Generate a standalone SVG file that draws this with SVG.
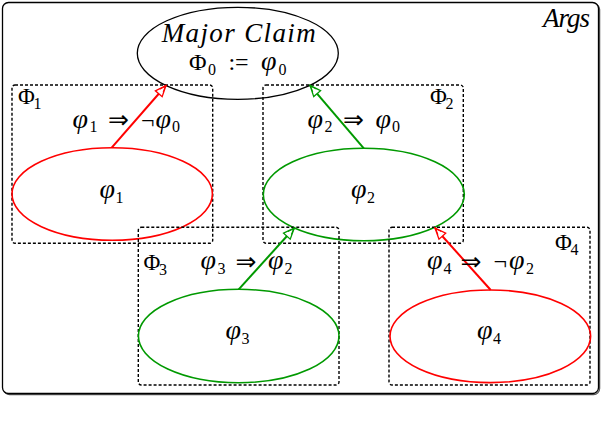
<svg xmlns="http://www.w3.org/2000/svg" width="602" height="432" viewBox="0 0 602 432">
<style>
.frame{fill:#fff;stroke:#000;stroke-width:1.3}
.shadow{fill:none;stroke:#555;stroke-width:1.3}
.box{fill:none;stroke:#000;stroke-width:1.4;stroke-dasharray:3 2}
.ell{fill:none;stroke-width:1.6}
.red{stroke:#ff0000}
.grn{stroke:#009900}
.blk{stroke:#000;stroke-width:1.3}
.edge{fill:none;stroke-width:2}
text{font-family:"Liberation Serif","DejaVu Serif",serif;fill:#000}
.v{font-size:28px;font-style:italic}
.s{font-size:16px;font-style:normal}
.P{font-size:23px;font-style:normal}
.n{font-size:24px;font-style:normal}
.ar{font-family:"DejaVu Sans",sans-serif;font-size:25px}
.it{font-size:27px;font-style:italic}
</style>
<defs>
<marker id="ahr" markerUnits="userSpaceOnUse" orient="auto" refX="0" refY="0" markerWidth="20" markerHeight="20" overflow="visible">
<path d="M-11,-4.5 L0,0 L-11,4.5 Z" fill="#fff" stroke="#ff0000" stroke-width="1.3" stroke-linejoin="miter"/>
<path d="M-7,-2.3 L-1,0 L-7,2.3" fill="none" stroke="#ff0000" stroke-width="1"/>
</marker>
<marker id="ahg" markerUnits="userSpaceOnUse" orient="auto" refX="0" refY="0" markerWidth="20" markerHeight="20" overflow="visible">
<path d="M-11,-4.5 L0,0 L-11,4.5 Z" fill="#fff" stroke="#009900" stroke-width="1.3" stroke-linejoin="miter"/>
<path d="M-7,-2.3 L-1,0 L-7,2.3" fill="none" stroke="#009900" stroke-width="1"/>
</marker>
</defs>
<rect width="602" height="432" fill="#fff"/>
<g id="args">
<rect class="shadow" x="3.6" y="3.6" width="596" height="391" rx="6"/>
<rect class="frame" x="2.5" y="2.5" width="596" height="391" rx="6"/>
<text class="it" x="590" y="27" text-anchor="end" textLength="47" font-size="25">Args</text>
</g>
<g id="major-claim">
<ellipse class="ell blk" cx="237.8" cy="53.3" rx="100.5" ry="46"/>
<text class="it" x="161.7" y="42" textLength="154" lengthAdjust="spacing">Major Claim</text>
<text><tspan class="n" x="189" y="70">Φ</tspan><tspan class="s" x="208" y="75">0</tspan><tspan class="n" x="228.5" y="70">:</tspan><tspan class="n" x="235" y="70">=</tspan><tspan class="v" x="261" y="70">φ</tspan><tspan class="s" x="278.5" y="75">0</tspan></text>
</g>
<g id="arg1">
<rect class="box" x="12" y="85" width="200.7" height="158.3" rx="3"/>
<ellipse class="ell red" cx="112.2" cy="194" rx="100.2" ry="46.2"/>
<text><tspan class="P" x="18" y="104">Φ</tspan><tspan class="s" x="33.5" y="108.5">1</tspan></text>
<text><tspan class="v" x="99.5" y="198">φ</tspan><tspan class="s" x="115.5" y="202.5">1</tspan></text>
</g>
<g id="arg2">
<rect class="box" x="263" y="85" width="200.3" height="158.3" rx="3"/>
<ellipse class="ell grn" cx="363.8" cy="194.5" rx="100.5" ry="46.2"/>
<text><tspan class="P" x="430" y="104">Φ</tspan><tspan class="s" x="445.5" y="108.5">2</tspan></text>
<text><tspan class="v" x="351" y="198">φ</tspan><tspan class="s" x="367" y="202.5">2</tspan></text>
</g>
<g id="arg3">
<rect class="box" x="138.3" y="227.3" width="200.7" height="157.7" rx="3"/>
<ellipse class="ell grn" cx="238.7" cy="336" rx="100.3" ry="46.7"/>
<text><tspan class="P" x="143.5" y="270">Φ</tspan><tspan class="s" x="159" y="274.5">3</tspan></text>
<text><tspan class="v" x="225.5" y="339">φ</tspan><tspan class="s" x="241.5" y="343.5">3</tspan></text>
</g>
<g id="arg4">
<rect class="box" x="389" y="227.3" width="201" height="157.7" rx="3"/>
<ellipse class="ell red" cx="490.3" cy="336.3" rx="100.3" ry="46.3"/>
<text><tspan class="P" x="555" y="250">Φ</tspan><tspan class="s" x="570.5" y="254.5">4</tspan></text>
<text><tspan class="v" x="477" y="339">φ</tspan><tspan class="s" x="493" y="343.5">4</tspan></text>
</g>
<g id="connectors">
<line class="edge red" x1="111.7" y1="147.7" x2="166" y2="85.5" marker-end="url(#ahr)"/>
<line class="edge grn" x1="363.8" y1="148.3" x2="310" y2="85.3" marker-end="url(#ahg)"/>
<line class="edge grn" x1="238.7" y1="289.3" x2="294.3" y2="228" marker-end="url(#ahg)"/>
<line class="edge red" x1="490.7" y1="290" x2="435" y2="228" marker-end="url(#ahr)"/>
<text><tspan class="v" x="72.5" y="127.5">φ</tspan><tspan class="s" x="89.5" y="132">1</tspan><tspan class="ar" x="108" y="128">⇒</tspan><tspan class="n" x="141" y="127.5">¬</tspan><tspan class="v" x="155.5" y="127.5">φ</tspan><tspan class="s" x="172" y="132">0</tspan></text>
<text><tspan class="v" x="307.5" y="127.5">φ</tspan><tspan class="s" x="324.5" y="132">2</tspan><tspan class="ar" x="343" y="128">⇒</tspan><tspan class="v" x="375.5" y="127.5">φ</tspan><tspan class="s" x="392" y="132">0</tspan></text>
<text><tspan class="v" x="200.5" y="269">φ</tspan><tspan class="s" x="217.5" y="273.5">3</tspan><tspan class="ar" x="235.5" y="269.5">⇒</tspan><tspan class="v" x="268" y="269">φ</tspan><tspan class="s" x="284.5" y="273.5">2</tspan></text>
<text><tspan class="v" x="427" y="269">φ</tspan><tspan class="s" x="443.5" y="273.5">4</tspan><tspan class="ar" x="460.5" y="269.5">⇒</tspan><tspan class="n" x="493.5" y="269">¬</tspan><tspan class="v" x="509" y="269">φ</tspan><tspan class="s" x="526" y="273.5">2</tspan></text>
</g>
</svg>
